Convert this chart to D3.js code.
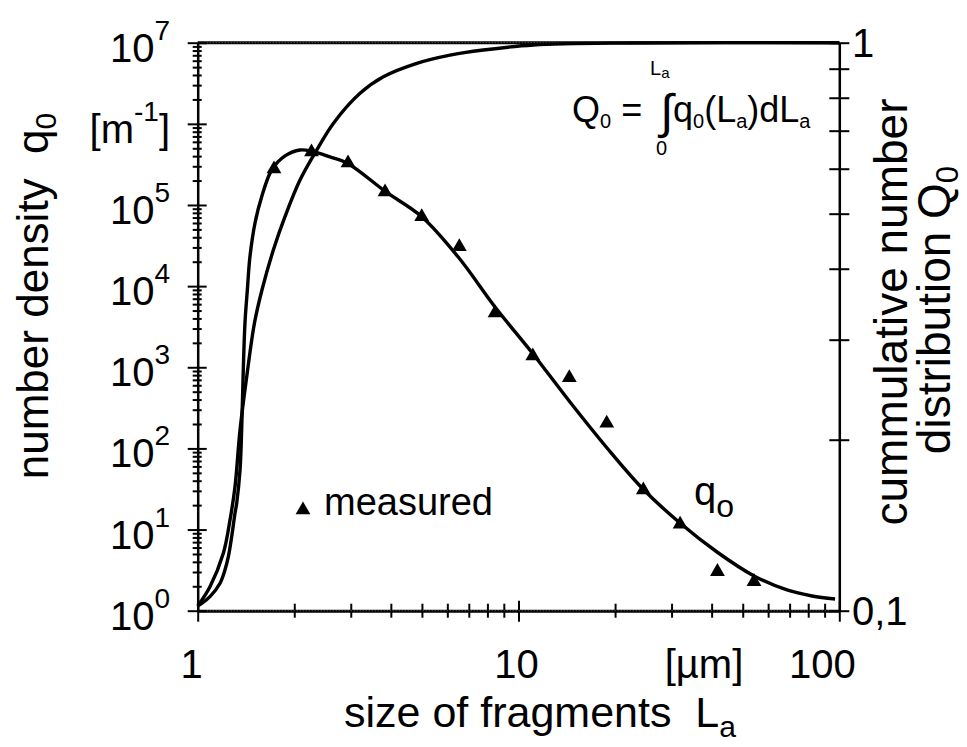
<!DOCTYPE html>
<html><head><meta charset="utf-8">
<script src="https://cdn.jsdelivr.net/npm/d3@7"></script>
<style>
body{margin:0;background:#fff}
text{font-family:"Liberation Sans",Arial,Helvetica,sans-serif;fill:#000}
</style>
</head><body>
<svg id="c" width="967" height="747"></svg>
<script>
// ---------- data ----------
const measuredL = [1.729,2.263,2.942,3.837,4.992,6.54,8.45,11.08,14.4,18.84,24.5,31.9,41.7,54.2];
const measuredQ = [2.78e5,4.50e5,3.29e5,1.446e5,7.17e4,3.06e4,4670,1377,744,204,30.7,11.6,3.03,2.28];

const q0L = [1.0,1.029,1.092,1.174,1.216,1.246,1.276,1.307,1.323,1.355,1.371,1.387,1.404,1.428,1.455,1.509,1.583,1.701,1.871,2.084,2.293,2.585,2.920,3.864,5.003,6.525,8.45,11.10,14.47,18.88,24.44,31.87,41.58,54.22,68.7,82.2,97.0];
const q0V = [1.15,1.23,1.49,2.18,3.17,4.63,8.17,15.9,21.1,54.2,168.6,925,3515,8960,23070,6.0e4,1.265e5,2.70e5,4.02e5,4.76e5,4.54e5,3.91e5,3.29e5,1.446e5,7.11e4,2.22e4,5530,1458,373,101.2,31.6,12.04,5.29,2.68,1.80,1.518,1.394];

const Q0L = [1.0,1.092,1.202,1.261,1.307,1.355,1.424,1.503,1.586,1.721,1.871,2.084,2.349,2.647,3.206,3.79,4.82,6.12,7.77,11.12,22.8,100];
const Q0V = [0.1019,0.1102,0.1262,0.1444,0.1653,0.208,0.26,0.321,0.367,0.4315,0.494,0.573,0.647,0.721,0.8145,0.871,0.9198,0.951,0.9708,0.9908,0.999,1.0];

const xTickVals = [1,10,100];
const xTickLabels = ["1","10","100"];
const leftTickVals = [1,10,100,1e3,1e4,1e5,1e6,1e7];
const leftLabelBase = ["10","10","10","10","10","10","[m","10"];
const leftLabelSup  = ["0","1","2","3","4","5","-1","7"];
const leftLabelTail = ["","","","","","","]",""];
const rightTickVals = [0.1,1];
const rightTickLabels = ["0,1","1"];

// ---------- scales ----------
const svg = d3.select("#c");
const x  = d3.scaleLog().domain([1,100]).range([197.7,839.3]);
const yL = d3.scaleLog().domain([1,1e7]).range([610.7,42.7]);
const yR = d3.scaleLog().domain([0.1,1]).range([610.7,42.7]);

const isMajor = v => Math.abs(Math.log10(v) - Math.round(Math.log10(v))) < 1e-9;

// ---------- axes ----------
const gx = svg.append("g").attr("transform",`translate(0,${yL(1)})`)
  .call(d3.axisBottom(x).tickValues(x.ticks()).tickFormat("").tickSizeOuter(0).tickSize(0));
gx.select(".domain").attr("stroke","#000").attr("stroke-width",3);
gx.selectAll(".tick line").attr("stroke","#000").attr("stroke-width",2)
  .attr("y1",d=>isMajor(d)?-10:-7).attr("y2",d=>isMajor(d)?11:7);
svg.append("line").attr("x1",x(1)).attr("x2",x(100)).attr("y1",yL(1e7)).attr("y2",yL(1e7))
  .attr("stroke","#000").attr("stroke-width",3);
[yL(1),yL(1e7)].forEach(yy=>{
  svg.append("line").attr("x1",x(1)).attr("x2",x(100)).attr("y1",yy).attr("y2",yy)
    .attr("stroke","#fff").attr("stroke-width",0.8).attr("stroke-dasharray","1,2").attr("opacity",0.55);
});

const gy = svg.append("g").attr("transform",`translate(${x(1)},0)`)
  .call(d3.axisLeft(yL).tickValues(yL.ticks()).tickFormat("").tickSizeOuter(0).tickSize(0));
gy.select(".domain").attr("stroke","#000").attr("stroke-width",2.5);
gy.selectAll(".tick line").attr("stroke","#000").attr("stroke-width",2)
  .attr("x1",d=>isMajor(d)?-10:-5).attr("x2",d=>isMajor(d)?9:4);

const gr = svg.append("g").attr("transform",`translate(${x(100)},0)`)
  .call(d3.axisRight(yR).tickValues(yR.ticks()).tickFormat("").tickSizeOuter(0).tickSize(0));
gr.select(".domain").attr("stroke","#000").attr("stroke-width",2.5);
gr.selectAll(".tick line").attr("stroke","#000").attr("stroke-width",2)
  .attr("x1",-10).attr("x2",10);

// ---------- tick labels ----------
const FS = 40;
xTickVals.forEach((v,i)=>{
  const dx = i===2 ? -17 : (i===0 ? -6 : -2);
  svg.append("text").attr("x",x(v)+dx).attr("y",678).attr("text-anchor","middle")
    .attr("font-size",FS).text(xTickLabels[i]);
});
svg.append("text").attr("x",704).attr("y",678).attr("text-anchor","middle").attr("font-size",FS)
  .text("[\u00b5m]");

leftTickVals.forEach((v,i)=>{
  const t = svg.append("text").attr("x",170).attr("y",yL(v)+19).attr("text-anchor","end").attr("font-size",FS);
  t.append("tspan").text(leftLabelBase[i]);
  t.append("tspan").attr("font-size",28).attr("dy",-22).text(leftLabelSup[i]);
  if(leftLabelTail[i]) t.append("tspan").attr("dy",22).text(leftLabelTail[i]);
});

rightTickVals.forEach((v,i)=>{
  svg.append("text").attr("x",852).attr("y",yR(v)+14).attr("font-size",FS).text(rightTickLabels[i]);
});

// ---------- axis titles ----------
const xt = svg.append("text").attr("x",540).attr("y",727).attr("text-anchor","middle").attr("font-size",43);
xt.append("tspan").text("size of fragments\u00a0\u00a0L");
xt.append("tspan").attr("font-size",30).attr("dy",10).text("a");

const lt = svg.append("text").attr("transform","translate(48,296) rotate(-90)").attr("text-anchor","middle").attr("font-size",44);
lt.append("tspan").text("number density\u00a0\u00a0q");
lt.append("tspan").attr("font-size",30).attr("dy",8).text("0");

svg.append("text").attr("transform","translate(907,312) rotate(-90)").attr("text-anchor","middle").attr("font-size",46)
  .text("cummulative number");
const rt2 = svg.append("text").attr("transform","translate(950,310) rotate(-90)").attr("text-anchor","middle").attr("font-size",46);
rt2.append("tspan").text("distribution Q");
rt2.append("tspan").attr("font-size",31).attr("dy",8).text("0");

// ---------- curves ----------
const curve = d3.curveCatmullRom.alpha(0.5);
const lineQ = d3.line().x(d=>x(d[0])).y(d=>yL(d[1])).curve(curve);
const lineC = d3.line().x(d=>x(d[0])).y(d=>yR(d[1])).curve(curve);
svg.append("path").datum(q0L.map((l,i)=>[l,q0V[i]])).attr("d",lineQ)
  .attr("fill","none").attr("stroke","#000").attr("stroke-width",3.4);
svg.append("path").datum(Q0L.map((l,i)=>[l,Q0V[i]])).attr("d",lineC)
  .attr("fill","none").attr("stroke","#000").attr("stroke-width",3.4);

// ---------- measured points ----------
const tri = d3.symbol().type(d3.symbolTriangle).size(95);
svg.selectAll("path.pt").data(measuredL.map((l,i)=>[l,measuredQ[i]])).join("path")
  .attr("class","pt").attr("d",tri).attr("fill","#000")
  .attr("transform",d=>`translate(${x(d[0])},${yL(d[1])})`);

// ---------- legend & labels ----------
svg.append("path").attr("d",tri).attr("fill","#000").attr("transform","translate(303,510)");
svg.append("text").attr("x",324).attr("y",515).attr("font-size",38).text("measured");

const ql = svg.append("text").attr("x",694).attr("y",505).attr("font-size",40);
ql.append("tspan").text("q");
ql.append("tspan").attr("font-size",32).attr("dy",12).text("o");

// formula
const f = svg.append("text").attr("x",572).attr("y",122).attr("font-size",36);
f.append("tspan").text("Q");
f.append("tspan").attr("font-size",20).attr("dy",6).text("0");
f.append("tspan").attr("dy",-6).text("\u00a0=\u00a0");
svg.append("text").attr("x",660).attr("y",128).attr("font-size",48).attr("font-family","DejaVu Sans").text("\u222b");
const ul = svg.append("text").attr("x",650).attr("y",75).attr("font-size",20);
ul.append("tspan").text("L"); ul.append("tspan").attr("font-size",15).attr("dy",3).text("a");
svg.append("text").attr("x",656).attr("y",155).attr("font-size",20).text("0");
const g2 = svg.append("text").attr("x",673).attr("y",122).attr("font-size",36);
g2.append("tspan").text("q");
g2.append("tspan").attr("font-size",20).attr("dy",6).text("0");
g2.append("tspan").attr("dy",-6).text("(L");
g2.append("tspan").attr("font-size",20).attr("dy",6).text("a");
g2.append("tspan").attr("dy",-6).text(")dL");
g2.append("tspan").attr("font-size",20).attr("dy",6).text("a");
</script>
</body></html>
